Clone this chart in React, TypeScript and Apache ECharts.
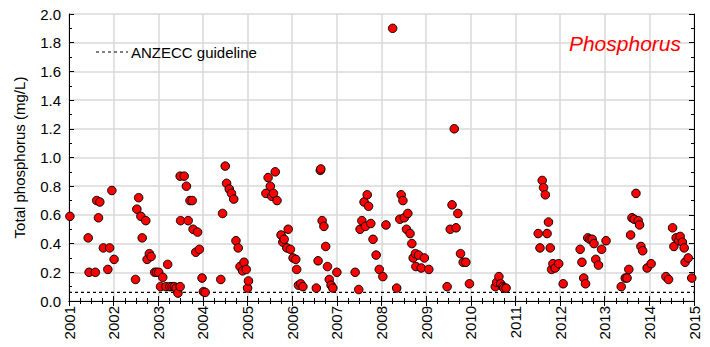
import React, { useEffect, useRef } from "react";
import * as echarts from "echarts";

const sampleYears: number[] = [
  2001.02, 2001.43, 2001.45, 2001.59, 2001.62, 2001.66, 2001.69, 2001.77, 2001.87, 2001.91, 2001.96, 2002.01,
  2002.49, 2002.52, 2002.56, 2002.61, 2002.64, 2002.72, 2002.75, 2002.80, 2002.84, 2002.92, 2002.96, 2003.01,
  2003.05, 2003.10, 2003.17, 2003.21, 2003.26, 2003.31, 2003.36, 2003.40, 2003.44, 2003.49, 2003.49, 2003.50,
  2003.58, 2003.63, 2003.67, 2003.71, 2003.76, 2003.78, 2003.84, 2003.88, 2003.92, 2003.98, 2004.01, 2004.05,
  2004.40, 2004.44, 2004.50, 2004.53, 2004.59, 2004.64, 2004.69, 2004.74, 2004.79, 2004.83, 2004.89, 2004.92,
  2004.97, 2005.00, 2005.02, 2005.41, 2005.46, 2005.51, 2005.54, 2005.58, 2005.62, 2005.66, 2005.75, 2005.79,
  2005.82, 2005.88, 2005.91, 2005.96, 2006.02, 2006.08, 2006.10, 2006.14, 2006.19, 2006.24, 2006.54, 2006.58,
  2006.63, 2006.64, 2006.67, 2006.71, 2006.75, 2006.79, 2006.83, 2006.87, 2006.91, 2007.00, 2007.41, 2007.49,
  2007.52, 2007.56, 2007.61, 2007.64, 2007.68, 2007.71, 2007.76, 2007.81, 2007.88, 2007.95, 2008.03, 2008.10,
  2008.25, 2008.34, 2008.41, 2008.44, 2008.48, 2008.51, 2008.56, 2008.59, 2008.64, 2008.68, 2008.71, 2008.76,
  2008.77, 2008.83, 2008.89, 2008.96, 2009.06, 2009.47, 2009.54, 2009.58, 2009.63, 2009.67, 2009.71, 2009.77,
  2009.83, 2009.89, 2009.97, 2010.55, 2010.58, 2010.63, 2010.67, 2010.72, 2010.74, 2010.79, 2011.51, 2011.55,
  2011.60, 2011.63, 2011.67, 2011.71, 2011.74, 2011.78, 2011.81, 2011.84, 2011.89, 2011.97, 2012.07, 2012.45,
  2012.49, 2012.53, 2012.57, 2012.62, 2012.67, 2012.72, 2012.76, 2012.80, 2012.86, 2012.93, 2013.03, 2013.37,
  2013.46, 2013.50, 2013.54, 2013.58, 2013.61, 2013.66, 2013.70, 2013.75, 2013.78, 2013.81, 2013.85, 2013.95,
  2014.04, 2014.37, 2014.43, 2014.52, 2014.55, 2014.60, 2014.66, 2014.69, 2014.74, 2014.78, 2014.80, 2014.87,
  2014.95,
];

const phosphorus: number[] = [
  0.59, 0.44, 0.20, 0.20, 0.70, 0.58, 0.69, 0.37, 0.22, 0.37, 0.77, 0.29,
  0.15, 0.64, 0.72, 0.59, 0.44, 0.56, 0.29, 0.33, 0.31, 0.20, 0.20, 0.20,
  0.10, 0.165, 0.10, 0.255, 0.10, 0.10, 0.10, 0.09, 0.055, 0.10, 0.87, 0.56,
  0.87, 0.80, 0.56, 0.70, 0.70, 0.50, 0.34, 0.48, 0.36, 0.16, 0.065, 0.06,
  0.15, 0.61, 0.94, 0.82, 0.78, 0.75, 0.71, 0.42, 0.37, 0.24, 0.21, 0.27,
  0.22, 0.09, 0.14, 0.75, 0.86, 0.80, 0.73, 0.75, 0.90, 0.70, 0.46, 0.41,
  0.43, 0.37, 0.50, 0.36, 0.30, 0.29, 0.22, 0.11, 0.12, 0.10, 0.09, 0.28,
  0.91, 0.92, 0.56, 0.52, 0.38, 0.24, 0.15, 0.11, 0.09, 0.20, 0.20, 0.08,
  0.50, 0.56, 0.69, 0.52, 0.74, 0.66, 0.54, 0.43, 0.32, 0.22, 0.17, 0.53,
  1.90, 0.09, 0.57, 0.74, 0.70, 0.58, 0.50, 0.61, 0.47, 0.40, 0.30, 0.33,
  0.24, 0.32, 0.23, 0.30, 0.22, 0.10, 0.50, 0.67, 1.20, 0.51, 0.61, 0.33,
  0.27, 0.27, 0.12, 0.10, 0.13, 0.17, 0.12, 0.10, 0.09, 0.09, 0.47, 0.37,
  0.84, 0.79, 0.74, 0.47, 0.55, 0.37, 0.22, 0.26, 0.23, 0.26, 0.12, 0.36,
  0.27, 0.16, 0.12, 0.44, 0.43, 0.43, 0.40, 0.29, 0.25, 0.36, 0.42, 0.10,
  0.16, 0.16, 0.22, 0.46, 0.58, 0.57, 0.75, 0.56, 0.53, 0.38, 0.35, 0.23,
  0.26, 0.17, 0.15, 0.51, 0.38, 0.44, 0.42, 0.45, 0.41, 0.37, 0.27, 0.30,
  0.16,
];

const guidelineYears: number[] = [2001, 2015];
const guidelineValue = 0.06;

const FONT = "'Liberation Sans', Arial, Helvetica, sans-serif";

export default function App() {
  const ref = useRef<HTMLDivElement>(null);

  useEffect(() => {
    if (!ref.current) return;
    const chart = echarts.init(ref.current, undefined, { renderer: "svg" });

    const points = sampleYears.map((y, i) => [y, phosphorus[i]]);
    const guide = guidelineYears.map((y) => [y, guidelineValue]);

    const frameLine = { show: true, lineStyle: { color: "#000", width: 1 } };

    chart.setOption({
      animation: false,
      backgroundColor: "#fff",
      textStyle: { fontFamily: FONT },
      grid: { left: 69, right: 16, top: 14, bottom: 46, containLabel: false },
      xAxis: [
        {
          type: "value",
          min: 2001,
          max: 2015,
          interval: 1,
          position: "bottom",
          axisLine: frameLine,
          axisTick: { show: true, inside: true, length: 5, lineStyle: { color: "#000" } },
          minorTick: { show: true, splitNumber: 4, length: 3, lineStyle: { color: "#000" } },
          splitLine: { show: true, lineStyle: { color: "#d9d9d9", width: 1.5 } },
          axisLabel: {
            rotate: 90,
            fontSize: 15,
            color: "#000",
            fontFamily: FONT,
            margin: 5,
            formatter: (v: number) => String(v),
          },
        },
        {
          type: "value",
          min: 2001,
          max: 2015,
          interval: 1,
          position: "top",
          axisLine: frameLine,
          axisTick: { show: true, inside: true, length: 5, lineStyle: { color: "#000" } },
          minorTick: { show: true, splitNumber: 4, length: 3, lineStyle: { color: "#000" } },
          splitLine: { show: false },
          axisLabel: { show: false },
        },
      ],
      yAxis: [
        {
          type: "value",
          min: 0,
          max: 2,
          interval: 0.2,
          position: "left",
          name: "Total phosphorus (mg/L)",
          nameLocation: "middle",
          nameGap: 42,
          nameTextStyle: { fontSize: 15, color: "#000", fontFamily: FONT },
          axisLine: frameLine,
          axisTick: { show: true, inside: true, length: 5, lineStyle: { color: "#000" } },
          minorTick: { show: true, splitNumber: 2, length: 3, lineStyle: { color: "#000" } },
          splitLine: { show: true, lineStyle: { color: "#d9d9d9", width: 1.5 } },
          axisLabel: {
            fontSize: 15,
            color: "#000",
            fontFamily: FONT,
            margin: 8,
            formatter: (v: number) => v.toFixed(1),
          },
        },
        {
          type: "value",
          min: 0,
          max: 2,
          interval: 0.2,
          position: "right",
          axisLine: frameLine,
          axisTick: { show: true, inside: true, length: 5, lineStyle: { color: "#000" } },
          minorTick: { show: true, splitNumber: 2, length: 3, lineStyle: { color: "#000" } },
          splitLine: { show: false },
          axisLabel: { show: false },
        },
      ],
      series: [
        {
          name: "ANZECC guideline",
          type: "line",
          xAxisIndex: 0,
          yAxisIndex: 0,
          data: guide,
          showSymbol: false,
          symbol: "none",
          lineStyle: { color: "#000", width: 1.2, type: [3, 3] },
          z: 3,
          silent: true,
        },
        {
          name: "Phosphorus",
          type: "scatter",
          xAxisIndex: 0,
          yAxisIndex: 0,
          data: points,
          symbol: "circle",
          symbolSize: 8.5,
          itemStyle: { color: "#ff0000", borderColor: "#000", borderWidth: 1, opacity: 1 },
          z: 4,
        },
      ],
      graphic: [
        {
          type: "line",
          shape: { x1: 96, y1: 52, x2: 128, y2: 52 },
          style: { stroke: "#000", lineWidth: 1.2, lineDash: [3, 3] },
          z: 10,
        },
        {
          type: "text",
          x: 131,
          y: 52,
          style: {
            text: "ANZECC guideline",
            fontSize: 15,
            fontFamily: FONT,
            fill: "#000",
            textAlign: "left",
            textVerticalAlign: "middle",
          },
          z: 10,
        },
        {
          type: "text",
          x: 681,
          y: 43,
          style: {
            text: "Phosphorus",
            fontSize: 21,
            fontStyle: "italic",
            fontFamily: FONT,
            fill: "#ff0000",
            textAlign: "right",
            textVerticalAlign: "middle",
          },
          z: 10,
        },
      ],
    });

    return () => chart.dispose();
  }, []);

  return <div ref={ref} style={{ width: 710, height: 347, position: "absolute", left: 0, top: 0 }} />;
}
